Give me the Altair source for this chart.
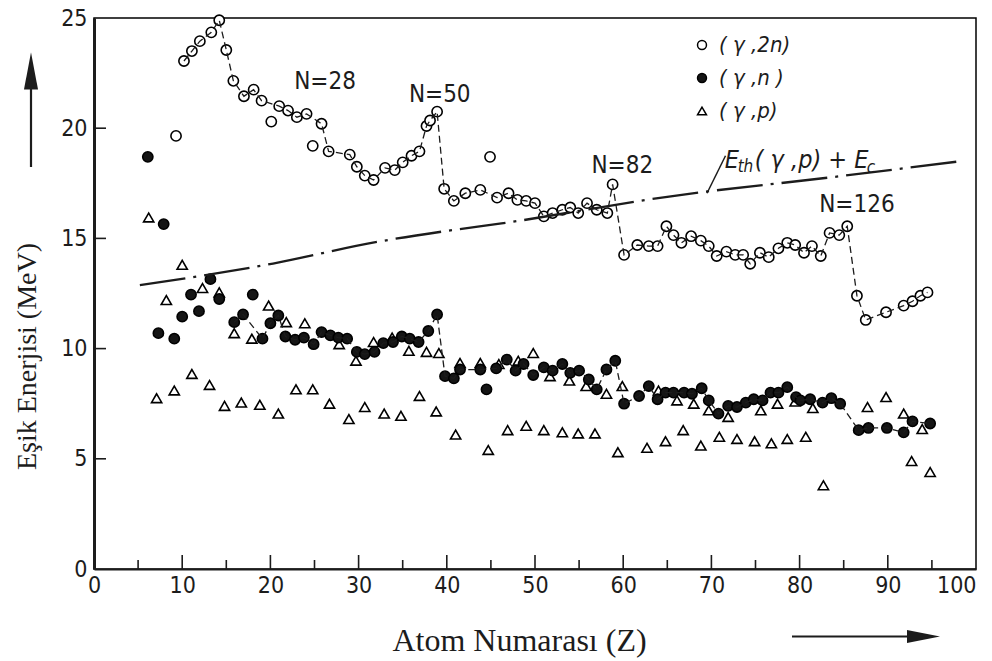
import altair as alt
import pandas as pd

# ---------------- data ----------------
# (gamma,2n) open circles
z_2n = [9.3, 10.2, 11.1, 12.0, 13.3, 14.2, 15.0, 15.8, 17.0, 18.1, 19.0, 20.1, 21.0, 22.0, 23.0,
        24.1, 24.8, 25.8, 26.6, 29.0, 29.8, 30.7, 31.7, 33.0, 34.1, 35.0, 36.0, 36.9, 37.7, 38.1,
        38.9, 39.7, 40.8, 42.1, 43.8, 44.9, 45.7, 47.0, 48.0, 49.0, 50.0, 51.0, 52.0, 53.1, 54.0,
        54.9, 55.9, 57.0, 58.2, 58.8, 60.1, 61.6, 62.9, 63.9, 64.9, 65.7, 66.6, 67.7, 68.8, 69.7,
        70.6, 71.7, 72.7, 73.6, 74.4, 75.5, 76.5, 77.6, 78.6, 79.5, 80.5, 81.4, 82.4, 83.4, 84.5,
        85.4, 86.5, 87.5, 89.8, 91.8, 92.8, 93.7, 94.5]
e_2n = [19.65, 23.05, 23.5, 23.95, 24.35, 24.9, 23.55, 22.15, 21.45, 21.75, 21.25, 20.3, 21.0, 20.8, 20.5,
        20.65, 19.2, 20.2, 18.95, 18.8, 18.25, 17.85, 17.65, 18.2, 18.1, 18.45, 18.75, 18.95, 20.1, 20.35,
        20.75, 17.25, 16.7, 17.05, 17.2, 18.7, 16.85, 17.05, 16.75, 16.7, 16.6, 16.0, 16.15, 16.3, 16.4,
        16.15, 16.6, 16.3, 16.15, 17.45, 14.25, 14.7, 14.65, 14.65, 15.55, 15.15, 14.8, 15.1, 14.9, 14.65,
        14.2, 14.4, 14.25, 14.25, 13.85, 14.35, 14.15, 14.55, 14.8, 14.7, 14.35, 14.65, 14.2, 15.25, 15.15,
        15.55, 12.4, 11.3, 11.65, 11.95, 12.15, 12.4, 12.55]
off_curve_2n = [9.3, 20.1, 24.8, 44.9]

# (gamma,n) filled circles
z_n = [6.1, 7.3, 7.9, 9.1, 10.0, 11.0, 11.9, 13.2, 14.2, 15.9, 16.9, 18.0, 19.1, 20.0, 20.9,
       21.7, 22.8, 23.8, 24.9, 25.8, 26.8, 27.7, 28.7, 29.8, 30.7, 31.8, 32.8, 33.9, 34.9, 35.8,
       36.8, 37.9, 38.9, 39.8, 40.8, 41.5, 43.8, 44.5, 45.6, 46.8, 47.8, 48.7, 49.8, 51.0, 52.0,
       53.1, 54.0, 55.0, 56.1, 57.0, 58.1, 59.1, 60.1, 61.8, 62.9, 63.9, 64.8, 65.7, 66.9, 67.8,
       68.9, 69.7, 70.8, 71.9, 72.9, 73.9, 74.8, 75.8, 76.7, 77.6, 78.6, 79.6, 80.1, 81.2, 82.6,
       83.6, 84.6, 86.7, 87.8, 89.9, 91.8, 92.8, 94.8]
e_n = [18.7, 10.7, 15.65, 10.45, 11.45, 12.45, 11.7, 13.15, 12.25, 11.2, 11.55, 12.45, 10.45, 11.15, 11.5,
       10.55, 10.4, 10.5, 10.2, 10.75, 10.6, 10.5, 10.45, 9.85, 9.75, 9.85, 10.25, 10.3, 10.55, 10.45,
       10.3, 10.8, 11.55, 8.75, 8.65, 9.05, 9.05, 8.15, 9.1, 9.5, 9.0, 9.3, 8.8, 9.15, 9.0,
       9.3, 8.9, 9.0, 8.6, 8.15, 9.05, 9.45, 7.5, 7.85, 8.3, 7.7, 8.0, 8.0, 8.0, 7.95,
       8.2, 7.65, 7.05, 7.4, 7.35, 7.55, 7.7, 7.65, 8.0, 8.0, 8.25, 7.8, 7.65, 7.7, 7.55,
       7.75, 7.5, 6.3, 6.4, 6.4, 6.2, 6.7, 6.6]
curve_start_n = 15.9
off_curve_n = [18.0, 44.5]

# (gamma,p) open triangles
z_p = [6.2, 8.2, 10.0, 12.3, 14.2, 15.9, 17.9, 19.8, 21.8, 23.9, 27.8, 29.7, 31.7, 33.8, 35.7,
       37.7, 39.1, 41.5, 43.8, 45.9, 48.1, 49.8, 51.7, 53.9, 55.8, 58.1, 59.9, 64.0, 66.1, 68.0,
       69.7, 71.9, 75.6, 77.5, 79.5, 81.5, 87.7, 89.8, 91.8, 93.9,
       7.1, 9.1, 11.1, 13.1, 14.8, 16.7, 18.8, 20.9, 22.9, 24.8, 26.7, 28.9, 30.7, 32.9, 34.8,
       36.9, 38.8, 41.0, 44.7, 46.9, 49.0, 51.0, 53.1, 54.9, 56.8, 59.4, 62.7, 64.8, 66.8, 68.8,
       70.9, 72.9, 74.9, 76.8, 78.6, 80.7, 82.7, 92.7, 94.8]
e_p = [15.95, 12.2, 13.8, 12.75, 12.55, 10.7, 10.45, 11.95, 11.2, 11.15, 10.2, 9.45, 10.3, 10.5, 9.9,
       9.85, 9.8, 9.35, 9.35, 9.3, 9.45, 9.8, 8.75, 8.55, 8.3, 7.95, 8.3, 8.1, 7.65, 7.5,
       7.2, 6.9, 7.2, 7.5, 7.6, 7.3, 7.35, 7.8, 7.05, 6.35,
       7.75, 8.1, 8.85, 8.35, 7.4, 7.55, 7.45, 7.05, 8.15, 8.15, 7.5, 6.8, 7.35, 7.05, 6.95,
       7.85, 7.15, 6.1, 5.4, 6.3, 6.5, 6.3, 6.2, 6.15, 6.15, 5.3, 5.5, 5.8, 6.3, 5.6,
       6.0, 5.9, 5.8, 5.7, 5.9, 6.0, 3.8, 4.9, 4.4]

# E_th(gamma,p) + E_c dash-dot curve
z_th = [5.2, 20.3, 32.2, 40.7, 46.2, 62.5, 65.2, 83.3, 98.4]
e_th = [12.88, 13.86, 14.85, 15.38, 15.68, 16.74, 16.9, 17.76, 18.51]

series_names = ["( γ ,2n)", "( γ ,n )", "( γ ,p)"]

ann_text = ["N=28", "N=50", "N=82", "N=126"]
ann_z = [26.2, 39.2, 59.9, 86.5]
ann_e = [22.1, 21.5, 18.3, 16.5]

leader_z = [69.5, 71.6]
leader_e = [17.05, 18.75]

label_z = 71.5
label_e = 18.2

x_labels = [0, 10, 20, 30, 40, 50, 60, 70, 80, 90, 100]
y_labels = [0, 5, 10, 15, 20, 25]
x_major = [10, 20, 30, 40, 50, 60, 70, 80, 90]
x_minor = [5, 15, 25, 35, 45, 55, 65, 75, 85, 95]
y_major = [5, 10, 15, 20]

W, H = 882, 551
NARROW = "Liberation Sans Narrow, DejaVu Sans Condensed, Roboto Condensed, Roboto, sans-serif"
SERIF = "Liberation Serif, Times New Roman, serif"
INK = "#1c1c1c"

# ---------------- tables ----------------
pts = pd.concat([
    pd.DataFrame({"Z": z_p, "E": e_p, "series": series_names[2]}),
    pd.DataFrame({"Z": z_n, "E": e_n, "series": series_names[1]}),
    pd.DataFrame({"Z": z_2n, "E": e_2n, "series": series_names[0]}),
], ignore_index=True)

c2n = pd.DataFrame({"Z": z_2n, "E": e_2n})
c2n = c2n[(c2n.Z >= 10) & (~c2n.Z.isin(off_curve_2n))]
cn = pd.DataFrame({"Z": z_n, "E": e_n})
cn = cn[(cn.Z >= curve_start_n) & (~cn.Z.isin(off_curve_n))]
curves = pd.concat([c2n.assign(s="a"), cn.assign(s="b")], ignore_index=True)

th = pd.DataFrame({"Z": z_th, "E": e_th})
ann = pd.DataFrame({"Z": ann_z, "E": ann_e, "t": ann_text})
leader = pd.DataFrame({"Z": leader_z, "E": leader_e})

xs = alt.Scale(domain=[0, 100], nice=False, zero=False)
ys = alt.Scale(domain=[0, 25], nice=False, zero=False)

x_axis = alt.Axis(values=x_labels, ticks=False, grid=False,
                  domainColor=INK, domainWidth=2, labelFont=NARROW, labelFontSize=23,
                  labelColor=INK, labelPadding=5, labelFlush=False,
                  labelAlign={"condition": {"test": "datum.value == 100", "value": "right"},
                              "value": "center"},
                  title="Atom Numarası (Z)", titleFont=SERIF, titleFontSize=32,
                  titleFontWeight="normal", titleColor=INK, titleX=425, titleY=81,
                  titleBaseline="alphabetic", titleAlign="center")
y_axis = alt.Axis(values=y_labels, ticks=False, grid=False,
                  domainColor=INK, domainWidth=3, labelFont=NARROW, labelFontSize=23,
                  labelColor=INK, labelPadding=7,
                  title="Eşik Enerjisi  (MeV)", titleFont=SERIF, titleFontSize=28,
                  titleFontWeight="normal", titleColor=INK, titleX=-59, titleY=338,
                  titleBaseline="alphabetic", titleAlign="center", titleAngle=270)

X = alt.X("Z:Q", scale=xs, axis=x_axis)
Y = alt.Y("E:Q", scale=ys, axis=y_axis)

shape_scale = alt.Scale(domain=series_names, range=["circle", "circle", "triangle-up"])
fill_scale = alt.Scale(domain=series_names, range=["white", "#151515", "white"])

points = alt.Chart(pts).mark_point(stroke="black", strokeWidth=1.6, opacity=1, fillOpacity=1,
                                   size=105).encode(
    x=X, y=Y,
    shape=alt.Shape("series:N", scale=shape_scale, legend=None),
    fill=alt.Fill("series:N", scale=fill_scale, legend=None),
)

trend = alt.Chart(curves).mark_line(color=INK, strokeWidth=1.3, strokeDash=[7, 4]).encode(
    x=X, y=Y, detail="s:N")

thline = alt.Chart(th).mark_line(color=INK, strokeWidth=2.3, strokeDash=[46, 8, 3, 8],
                                 interpolate="monotone").encode(x=X, y=Y)

lead = alt.Chart(leader).mark_line(color=INK, strokeWidth=1.5).encode(x=X, y=Y)

ann_layer = alt.Chart(ann).mark_text(font=NARROW, fontSize=24, color=INK, align="center",
                                     baseline="middle").encode(x=X, y=Y, text="t:N")

lab = pd.DataFrame({"Z": [label_z], "E": [label_e]})
def piece(txt, dx, dy, size):
    return alt.Chart(lab).mark_text(text=txt, font=NARROW, fontSize=size, fontStyle="italic",
                                    color=INK, align="left", baseline="alphabetic",
                                    dx=dx, dy=dy).encode(x=X, y=Y)

label_layers = [piece("E", 0, 0, 25), piece("th", 13, 4, 17), piece("( γ ,p) + E", 30, 0, 25),
                piece("c", 142, 5, 17)]

xt_major = alt.Chart(pd.DataFrame({"Z": x_major})).mark_rule(color=INK, strokeWidth=1.6).encode(
    x=X, y=alt.value(H), y2=alt.value(H - 14))
xt_minor = alt.Chart(pd.DataFrame({"Z": x_minor})).mark_rule(color=INK, strokeWidth=1.6).encode(
    x=X, y=alt.value(H), y2=alt.value(H - 9))
yt_major = alt.Chart(pd.DataFrame({"E": y_major})).mark_rule(color=INK, strokeWidth=1.6).encode(
    y=Y, x=alt.value(0), x2=alt.value(12))

# manual legend (top right, inside the plot)
one = pd.DataFrame({"a": [0]})
leg_layers = []
leg_fill = ["white", "#151515", "white"]
leg_shape = ["circle", "circle", "triangle-up"]
for i, name in enumerate(series_names):
    yy = 27 + i * 33
    leg_layers.append(alt.Chart(one).mark_point(shape=leg_shape[i], fill=leg_fill[i], stroke="black",
                                                strokeWidth=1.5, opacity=1, fillOpacity=1,
                                                size=80).encode(x=alt.value(608), y=alt.value(yy)))
    leg_layers.append(alt.Chart(one).mark_text(text=name, font=NARROW, fontSize=22,
                                               fontStyle="italic", color=INK, align="left",
                                               baseline="middle").encode(
        x=alt.value(625), y=alt.value(yy)))

# decorative arrows outside the plot
up_shaft = alt.Chart(one).mark_rule(color=INK, strokeWidth=2.2).encode(
    x=alt.value(-63), y=alt.value(149), y2=alt.value(70))
up_head = alt.Chart(one).mark_point(
    shape="M0,-1L0.38,1L-0.38,1Z", filled=True, color=INK, opacity=1, size=1369).encode(
    x=alt.value(-63), y=alt.value(53))
rt_shaft = alt.Chart(one).mark_rule(color=INK, strokeWidth=2.2).encode(
    x=alt.value(698), x2=alt.value(822), y=alt.value(618.5))
rt_head = alt.Chart(one).mark_point(
    shape="M1,0L-1,0.4L-1,-0.4Z", filled=True, color=INK, opacity=1, size=1089).encode(
    x=alt.value(829.5), y=alt.value(618.5))

chart = alt.layer(
    points, thline, trend, lead, xt_major, xt_minor, yt_major, ann_layer, *label_layers,
    *leg_layers, up_shaft, up_head, rt_shaft, rt_head
).properties(
    width=W, height=H,
    autosize=alt.AutoSizeParams(type="none"),
    padding={"left": 94, "top": 18, "right": 16, "bottom": 92},
    background="white",
).configure_view(stroke="black", strokeWidth=1.5)

chart.save("out.html", embed_options={"renderer": "svg", "actions": False})
